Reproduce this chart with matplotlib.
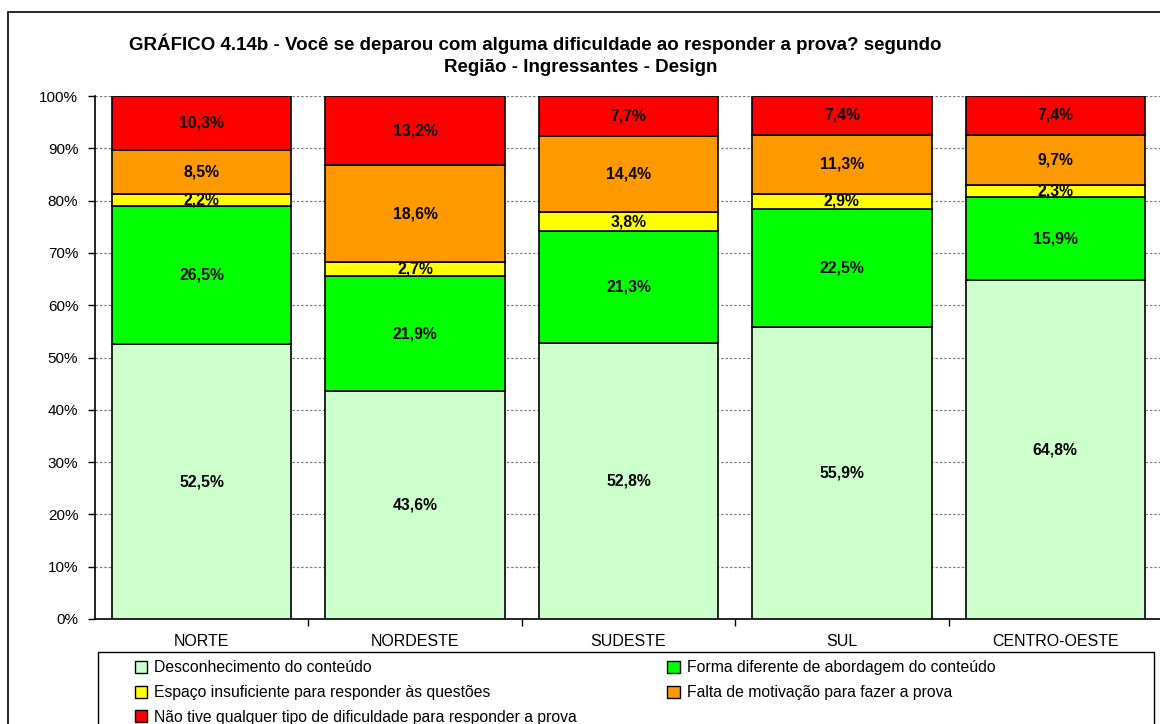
import matplotlib
matplotlib.use("Agg")
import matplotlib.pyplot as plt
from matplotlib.patches import Rectangle, Patch
import numpy as np

plt.rcParams['font.family'] = ['Liberation Sans', 'DejaVu Sans']

regions = ["NORTE", "NORDESTE", "SUDESTE", "SUL", "CENTRO-OESTE"]
series_names = [
    "Desconhecimento do conteúdo",
    "Forma diferente de abordagem do conteúdo",
    "Espaço insuficiente para responder às questões",
    "Falta de motivação para fazer a prova",
    "Não tive qualquer tipo de dificuldade para responder a prova",
]
desconhecimento = [52.5, 43.6, 52.8, 55.9, 64.8]
forma_diferente = [26.5, 21.9, 21.3, 22.5, 15.9]
espaco_insuf = [2.2, 2.7, 3.8, 2.9, 2.3]
falta_motivacao = [8.5, 18.6, 14.4, 11.3, 9.7]
sem_dificuldade = [10.3, 13.2, 7.7, 7.4, 7.4]
colors = ["#CCFFCC", "#00FF00", "#FFFF00", "#FF9900", "#FF0000"]

W, H = 1160, 724
fig = plt.figure(figsize=(W / 100, H / 100), dpi=100)

# outer frame of the chart area
fig.patches.append(Rectangle((8 / W, -0.05), 1.2, 1 - 12 / H + 0.05,
                             transform=fig.transFigure, fill=False,
                             edgecolor="black", linewidth=1.2))

ax = fig.add_axes([95 / W, 1 - 619 / H, 1067 / W, (619 - 96) / H])

series = [desconhecimento, forma_diferente, espaco_insuf, falta_motivacao, sem_dificuldade]
data = np.array(series, dtype=float)
totals = data.sum(axis=0)
pct = data / totals * 100

x = np.arange(len(regions))
bottom = np.zeros(len(regions))
for vals, shown, col in zip(pct, data, colors):
    ax.bar(x, vals, bottom=bottom, width=0.84, color=col, edgecolor="black",
           linewidth=1.2, zorder=3)
    for xi, b, v, s in zip(x, bottom, vals, shown):
        ax.text(xi, b + v / 2, f"{s:.1f}%".replace(".", ","), ha="center",
                va="center", fontsize=11.3, fontweight="bold", color="black", zorder=4)
    bottom += vals

ax.set_xlim(-0.5, len(regions) - 0.5)
ax.set_ylim(0, 100)
ax.set_yticks(np.arange(0, 101, 10))
ax.set_yticklabels([f"{v}%" for v in range(0, 101, 10)], fontsize=11)
ax.yaxis.grid(True, color="#808080", linestyle=(0, (2, 1.5)), linewidth=0.9, zorder=0)
ax.set_axisbelow(True)

ax.set_xticks(np.arange(0.5, len(regions) - 0.5, 1))
ax.set_xticklabels([])
ax.set_xticks(x, minor=True)
ax.set_xticklabels(regions, minor=True, fontsize=11.5)
ax.tick_params(axis="x", which="minor", length=0, pad=11)
ax.tick_params(axis="x", which="major", length=5, width=1, direction="out")
ax.tick_params(axis="y", length=5, width=1, direction="out", pad=7)

for side in ("top", "right"):
    ax.spines[side].set_visible(False)
ax.spines["left"].set_linewidth(1.2)
ax.spines["bottom"].set_linewidth(1.2)

fig.text(535 / W, 1 - 44 / H,
         "GRÁFICO 4.14b - Você se deparou com alguma dificuldade ao responder a prova? segundo",
         ha="center", va="center", fontsize=13.5, fontweight="bold")
fig.text(581 / W, 1 - 67 / H, "Região - Ingressantes - Design",
         ha="center", va="center", fontsize=13.5, fontweight="bold")

# legend box
fig.patches.append(Rectangle((98 / W, -0.05), (1154 - 98) / W, 1 - 652 / H + 0.05,
                             transform=fig.transFigure, fill=False,
                             edgecolor="black", linewidth=1.0))
order = [0, 2, 4, 1, 3]
handles = [Patch(facecolor=colors[i], edgecolor="black", linewidth=1.0) for i in order]
labels = [series_names[i] for i in order]
fig.legend(handles, labels, ncol=2, loc="upper left",
           bbox_to_anchor=(130 / W, 1 - 663 / H, (1000 - 130) / W, 0.01),
           mode="expand", frameon=False, fontsize=11.3, handlelength=0.8,
           handleheight=0.8, handletextpad=0.45, labelspacing=0.61,
           borderaxespad=0, borderpad=0.3)

fig.savefig("out.png", dpi=100)
